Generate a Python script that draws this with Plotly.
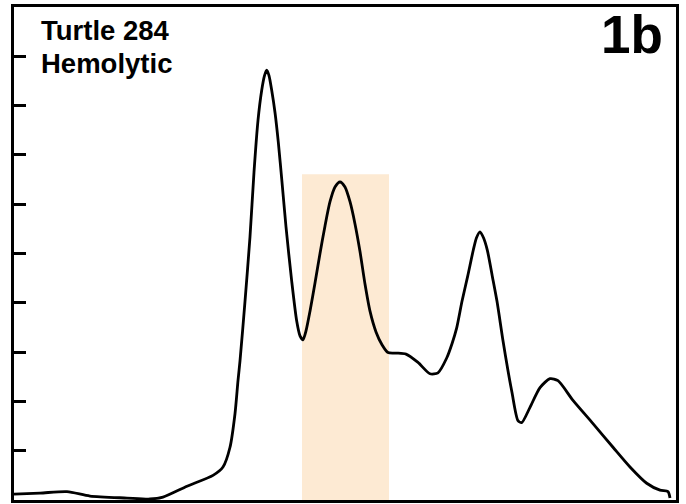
import plotly.graph_objects as go

# Densitometry trace (x: migration distance, arbitrary units; y: optical density, arbitrary units)
migration = [0, 26, 53, 76, 113, 136, 149, 173, 199, 209, 216, 221, 224, 226, 231, 236,
             240, 244, 247.7, 250.5, 252.7, 255, 257.7, 261, 264.3, 268, 272, 277.7, 282.7,
             286, 289, 292, 296, 301, 306, 311, 316, 321, 326, 331, 336, 341, 346, 351,
             356, 362, 368, 374, 382, 392, 404, 416, 424, 432.7, 438, 442.7, 448, 453.7,
             459.3, 462.5, 466, 469.5, 473.3, 478.3, 483, 489, 494, 498, 504, 507.7, 516,
             526, 536, 544, 559, 579, 599, 616, 632.7, 646, 654, 656]
density = [0.12, 0.14, 0.17, 0.08, 0.04, 0.02, 0.06, 0.28, 0.50, 0.67, 1.07, 1.75, 2.42,
           2.82, 4.03, 5.34, 6.65, 7.70, 8.31, 8.61, 8.72, 8.61, 8.31, 7.86, 7.26, 6.45,
           5.54, 4.44, 3.63, 3.33, 3.25, 3.43, 3.83, 4.40, 5.00, 5.56, 6.05, 6.35, 6.45,
           6.35, 6.05, 5.60, 5.04, 4.38, 3.83, 3.41, 3.15, 2.99, 2.98, 2.96, 2.79, 2.56,
           2.58, 2.88, 3.17, 3.49, 4.03, 4.54, 5.07, 5.32, 5.44, 5.32, 5.07, 4.54, 4.03,
           3.23, 2.62, 2.18, 1.61, 1.57, 1.88, 2.28, 2.46, 2.42, 2.02, 1.55, 1.07, 0.67,
           0.34, 0.20, 0.17, 0.04]

# Highlighted fraction band
band_start = 288
band_end = 375
band_top = 6.61

y_ticks = [1, 2, 3, 4, 5, 6, 7, 8, 9]

label_sample = "Turtle 284"
label_type = "Hemolytic"
label_panel = "1b"

fig = go.Figure()

fig.add_shape(type="rect", xref="x", yref="y",
              x0=band_start, x1=band_end, y0=0, y1=band_top,
              fillcolor="#fdead3", line=dict(width=0), layer="below")

fig.add_trace(go.Scatter(
    x=migration, y=density, mode="lines",
    line=dict(color="black", width=2.8, shape="spline", smoothing=0.7),
    hoverinfo="skip", showlegend=False))

fig.update_layout(
    width=686, height=504,
    margin=dict(l=14, r=10, t=4, b=4),
    paper_bgcolor="white", plot_bgcolor="white",
    showlegend=False,
    font=dict(family="Liberation Sans, Arial, sans-serif", color="black"),
)

fig.update_xaxes(range=[0, 662], showgrid=False, zeroline=False,
                 showline=True, linecolor="black", linewidth=3, mirror=True,
                 ticks="", showticklabels=False)
fig.update_yaxes(range=[0, 10], showgrid=False, zeroline=False,
                 showline=True, linecolor="black", linewidth=3, mirror=True,
                 tickmode="array", tickvals=y_ticks,
                 ticks="inside", ticklen=12, tickwidth=2.5, tickcolor="black",
                 showticklabels=False)

fig.add_annotation(text="<b>%s</b>" % label_sample, xref="paper", yref="paper",
                   x=(39 - 14) / 662, y=(500 - 28) / 496, xanchor="left", yanchor="middle",
                   showarrow=False, font=dict(size=27.5, color="black"))
fig.add_annotation(text="<b>%s</b>" % label_type, xref="paper", yref="paper",
                   x=(39 - 14) / 662, y=(500 - 60.5) / 496, xanchor="left", yanchor="middle",
                   showarrow=False, font=dict(size=27.5, color="black"))
fig.add_annotation(text="<b>%s</b>" % label_panel, xref="paper", yref="paper",
                   x=(665 - 14) / 662, y=(500 - 32) / 496, xanchor="right", yanchor="middle",
                   showarrow=False, font=dict(size=53, color="black"))

fig.write_html("out.html", config={"displayModeBar": False},
               post_script="document.body.style.margin='0';document.body.style.overflow='hidden';")
